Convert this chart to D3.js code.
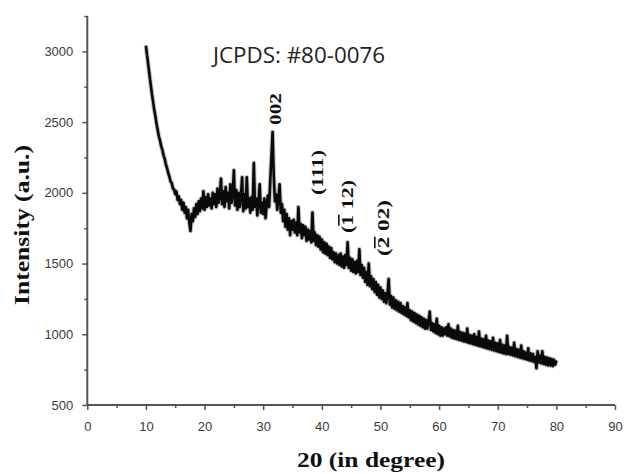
<!DOCTYPE html>
<html>
<head>
<meta charset="utf-8">
<script src="https://cdn.jsdelivr.net/npm/d3@7"></script>
<style>
  html, body { margin: 0; padding: 0; background: #fff; }
  svg { display: block; }
</style>
</head>
<body>
<svg id="chart" width="624" height="474"></svg>
<script>
// ---- DATA ----
const scanStart = 10;      // first 2θ sample (degree)
const scanStep = 0.2;      // sampling step (degree)
// Intensity samples, one row per degree (x.0, x.2, x.4, x.6, x.8)
const intensity = [
  3040, 2970, 2905, 2835, 2770,   // 10
  2705, 2650, 2590, 2545, 2490,   // 11
  2445, 2400, 2370, 2330, 2305,   // 12
  2265, 2240, 2200, 2175, 2140,   // 13
  2115, 2080, 2070, 2030, 2025,   // 14
  1990, 2010, 1950, 1975, 1920,   // 15
  1950, 1880, 1930, 1860, 1900,   // 16
  1820, 1880, 1790, 1730, 1850,   // 17
  1800, 1890, 1830, 1920, 1850,   // 18
  1940, 1870, 1960, 1890, 2010,   // 19
  1880, 1970, 1900, 1990, 1910,   // 20
  1960, 1890, 2000, 1920, 1990,   // 21
  1900, 2030, 1930, 1980, 2100,   // 22
  1920, 2010, 1900, 2040, 1940,   // 23
  2000, 1890, 2060, 1930, 1990,   // 24
  2160, 1910, 2020, 1880, 2000,   // 25
  1900, 1980, 2110, 1870, 1990,   // 26
  1890, 2110, 1900, 1960, 1860,   // 27
  1970, 1880, 2210, 1900, 1960,   // 28
  1840, 1940, 2060, 1860, 1930,   // 29
  1850, 1960, 1820, 1920, 1980,   // 30
  1900, 2080, 2250, 2430, 2120,   // 31
  1940, 1990, 1880, 1960, 2060,   // 32
  1860, 1920, 1800, 1880, 1760,   // 33
  1850, 1740, 1820, 1700, 1800,   // 34
  1740, 1810, 1720, 1790, 1700,   // 35
  1900, 1720, 1780, 1680, 1770,   // 36
  1700, 1760, 1660, 1740, 1670,   // 37
  1730, 1650, 1860, 1660, 1720,   // 38
  1630, 1700, 1620, 1690, 1600,   // 39
  1670, 1580, 1650, 1570, 1640,   // 40
  1560, 1620, 1540, 1610, 1530,   // 41
  1580, 1510, 1570, 1500, 1560,   // 42
  1490, 1570, 1480, 1550, 1470,   // 43
  1560, 1490, 1650, 1470, 1540,   // 44
  1450, 1530, 1440, 1510, 1430,   // 45
  1520, 1440, 1600, 1420, 1490,   // 46
  1400, 1470, 1370, 1440, 1350,   // 47
  1500, 1340, 1410, 1320, 1390,   // 48
  1300, 1370, 1280, 1350, 1260,   // 49
  1330, 1250, 1310, 1230, 1290,   // 50
  1220, 1290, 1390, 1210, 1270,   // 51
  1190, 1260, 1180, 1240, 1170,   // 52
  1230, 1160, 1220, 1150, 1200,   // 53
  1140, 1190, 1130, 1220, 1120,   // 54
  1170, 1100, 1160, 1090, 1150,   // 55
  1080, 1140, 1070, 1130, 1060,   // 56
  1120, 1050, 1110, 1040, 1100,   // 57
  1040, 1090, 1160, 1030, 1080,   // 58
  1020, 1070, 1010, 1110, 1000,   // 59
  1060,  990, 1050,  990, 1040,   // 60
  1000, 1050,  990, 1070,  985,   // 61
  1040,  975, 1030,  970, 1025,   // 62
   965, 1060,  960, 1015,  955,   // 63
  1010,  950, 1005,  945, 1040,   // 64
   940,  995,  935,  990,  930,   // 65
  1000,  925,  980,  920, 1020,   // 66
   915,  970,  910,  965,  905,   // 67
   990,  900,  955,  895,  950,   // 68
   890,  975,  885,  940,  880,   // 69
   935,  875,  960,  870,  925,   // 70
   865,  920,  860,  990,  860,   // 71
   910,  855,  905,  850,  940,   // 72
   845,  895,  840,  890,  835,   // 73
   920,  830,  880,  825,  870,   // 74
   820,  900,  815,  865,  810,   // 75
   860,  805,  840,  760,  880,   // 76
   800,  850,  795,  880,  790,   // 77
   840,  785,  835,  780,  830,   // 78
   780,  825,  775,  820,  785,   // 79
   815                            // 80
];
const xTicks = [0, 10, 20, 30, 40, 50, 60, 70, 80, 90];
const xMinorTicks = [5, 15, 25, 35, 45, 55, 65, 75, 85];
const yTicks = [500, 1000, 1500, 2000, 2500, 3000];
const yMinorTicks = [750, 1250, 1750, 2250, 2750, 3250];
// peak labels: [before-bar, overlined, after]
const peakLabels = [["002", "", ""], ["(111)", "", ""], ["(", "1", " 12)"], ["(", "2", " 02)"]];
const peakAngles = [31.6, 38.5, 44.4, 48.6];
const titleText = "JCPDS: #80-0076";
const xTitle = "20 (in degree)";
const yTitle = "Intensity (a.u.)";

// ---- CHART ----
const svg = d3.select("#chart");
const x = d3.scaleLinear().domain([0, 90]).range([87.3, 615]);
const y = d3.scaleLinear().domain([500, 3250]).range([405, 16]);

const data = intensity.map((v, i) => ({ a: scanStart + i * scanStep, v }));

const axisColor = "#555";
const labelFont = "'Liberation Sans', Arial, sans-serif";
const serif = "'Liberation Serif', 'Times New Roman', serif";

const line = d3.line().x(d => x(d.a)).y(d => y(d.v));
// soft grey halo, then the black trace
svg.append("path")
  .datum(data)
  .attr("fill", "none")
  .attr("stroke", "#888")
  .attr("stroke-opacity", 0.55)
  .attr("stroke-width", 4.6)
  .attr("stroke-linejoin", "round")
  .attr("d", line);
svg.append("path")
  .datum(data)
  .attr("fill", "none")
  .attr("stroke", "#0a0a0a")
  .attr("stroke-width", 2.6)
  .attr("stroke-linejoin", "round")
  .attr("d", line);

// x axis
const gx = svg.append("g").attr("transform", "translate(0,405)");
gx.call(d3.axisBottom(x).tickValues(xTicks).tickSize(5).tickPadding(12).tickFormat(d3.format("d")));
const gx2 = svg.append("g").attr("transform", "translate(0,405)");
gx2.call(d3.axisBottom(x).tickValues(xMinorTicks).tickSize(3).tickFormat(""));

// y axis
const gy = svg.append("g").attr("transform", "translate(87.3,0)");
gy.call(d3.axisLeft(y).tickValues(yTicks).tickSize(5).tickPadding(9).tickFormat(d3.format("d")));
const gy2 = svg.append("g").attr("transform", "translate(87.3,0)");
gy2.call(d3.axisLeft(y).tickValues(yMinorTicks).tickSize(3).tickFormat(""));

[gx, gx2, gy, gy2].forEach(g => {
  g.select(".domain").attr("stroke", axisColor).attr("stroke-width", 2);
  g.selectAll(".tick line").attr("stroke", axisColor).attr("stroke-width", 1.5);
  g.selectAll(".tick text").attr("fill", "#3a3a3a")
    .style("font-family", labelFont).style("font-size", "13px");
});
gx.select(".domain").attr("d", `M${x(0)},0H${x(90)}`);
gy.select(".domain").attr("d", `M0,${y(500)}V${y(3250)}`);
gx2.select(".domain").remove();
gy2.select(".domain").remove();

// title
svg.append("text")
  .attr("x", 213).attr("y", 63)
  .attr("textLength", 172).attr("lengthAdjust", "spacingAndGlyphs")
  .attr("fill", "#222")
  .style("font-family", "'Open Sans', 'Noto Sans', sans-serif")
  .style("font-size", "21px")
  .text(titleText);

// axis titles
svg.append("text")
  .attr("x", 297).attr("y", 467)
  .attr("textLength", 148).attr("lengthAdjust", "spacingAndGlyphs")
  .style("font-family", serif).style("font-weight", "bold").style("font-size", "21px")
  .attr("fill", "#111")
  .text(xTitle);

svg.append("text")
  .attr("transform", "translate(29,305) rotate(-90)")
  .attr("textLength", 160).attr("lengthAdjust", "spacingAndGlyphs")
  .style("font-family", serif).style("font-weight", "bold").style("font-size", "20px")
  .attr("fill", "#111")
  .text(yTitle);

// peak labels (rotated)
const peakPos = [
  { bx: 281, by: 125, len: 32 },
  { bx: 323, by: 195, len: 45 },
  { bx: 353, by: 233, len: 53 },
  { bx: 389, by: 256, len: 56 }
];
peakLabels.forEach((parts, i) => {
  const t = svg.append("text")
    .attr("transform", `translate(${peakPos[i].bx},${peakPos[i].by}) rotate(-90)`)
    .attr("textLength", peakPos[i].len).attr("lengthAdjust", "spacingAndGlyphs")
    .style("font-family", serif).style("font-weight", "bold").style("font-size", "16px")
    .attr("fill", "#111")
    .attr("data-angle", peakAngles[i]);
  t.append("tspan").text(parts[0]);
  if (parts[1]) t.append("tspan").style("text-decoration", "overline").text(parts[1]);
  if (parts[2]) t.append("tspan").text(parts[2]);
});
</script>
</body>
</html>
